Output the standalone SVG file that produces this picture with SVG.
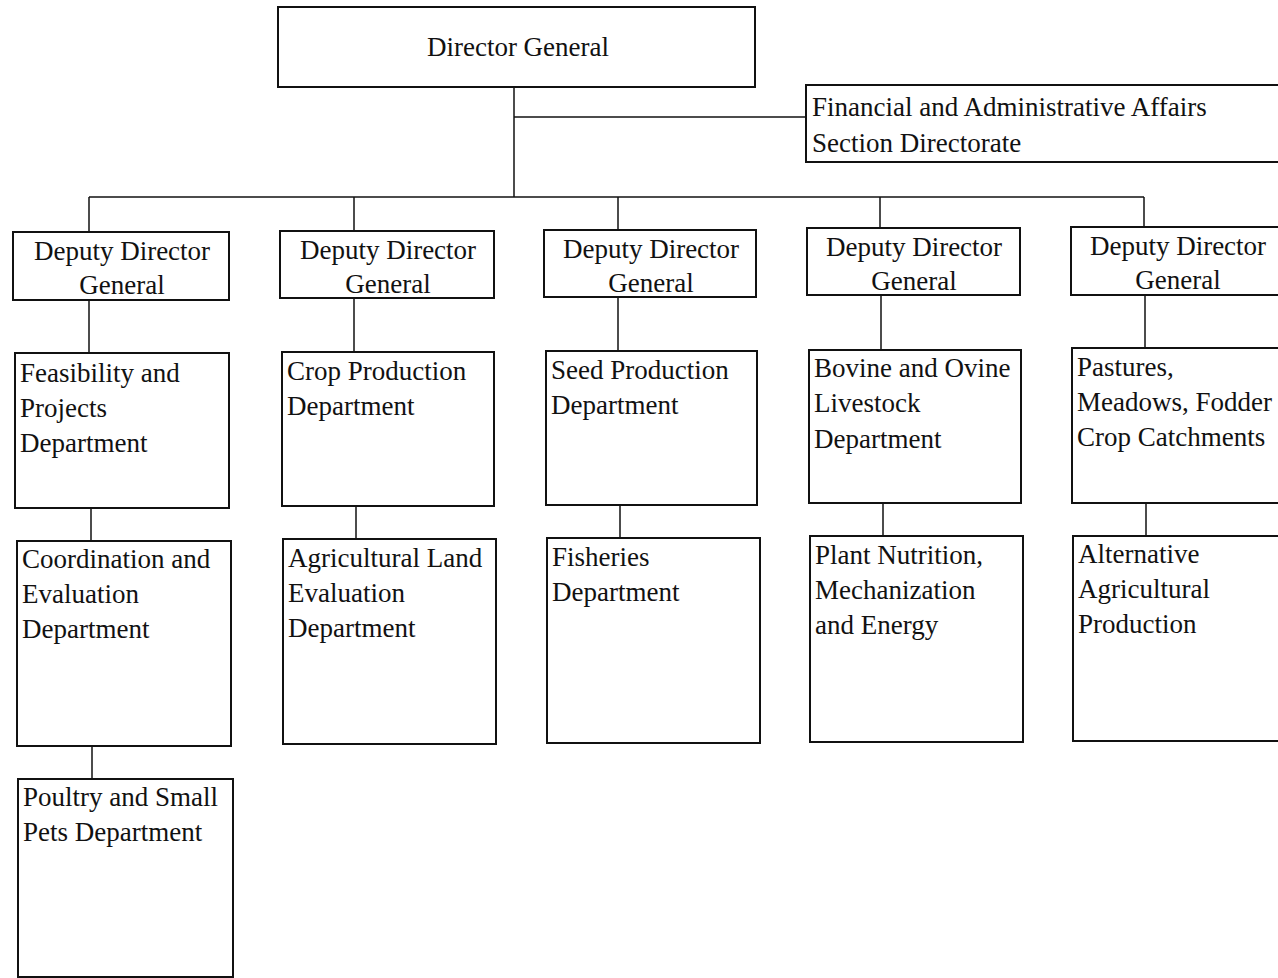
<svg xmlns="http://www.w3.org/2000/svg" width="1278" height="978" viewBox="0 0 1278 978">
<style>
.box{fill:#fff;stroke:#111;stroke-width:2}
.t{font-family:'Liberation Serif','Times New Roman',Times,serif;font-size:27px;fill:#111}
.c{text-anchor:middle}
.conn line{stroke:#111;stroke-width:1.5}
</style>
<rect width="1278" height="978" fill="#fff"/>
<g class="conn" id="connectors">
<line x1="514" y1="87" x2="514" y2="197"/>
<line x1="514" y1="117" x2="806" y2="117"/>
<line x1="89" y1="197" x2="1144" y2="197"/>
<line x1="89" y1="197" x2="89" y2="232"/>
<line x1="354" y1="197" x2="354" y2="231"/>
<line x1="618" y1="197" x2="618" y2="230"/>
<line x1="880" y1="197" x2="880" y2="228"/>
<line x1="1144" y1="197" x2="1144" y2="227"/>
<line x1="89" y1="300" x2="89" y2="353"/>
<line x1="354" y1="298" x2="354" y2="352"/>
<line x1="618" y1="297" x2="618" y2="351"/>
<line x1="881" y1="295" x2="881" y2="350"/>
<line x1="1145" y1="295" x2="1145" y2="348"/>
<line x1="91" y1="508" x2="91" y2="541"/>
<line x1="356" y1="506" x2="356" y2="539"/>
<line x1="620" y1="505" x2="620" y2="538"/>
<line x1="883" y1="503" x2="883" y2="536"/>
<line x1="1146" y1="503" x2="1146" y2="536"/>
<line x1="92" y1="746" x2="92" y2="779"/>
</g>
<g id="director-general"><rect class="box" x="278" y="7" width="477" height="80"/><text class="t c" x="518" y="56">Director General</text></g>
<g id="financial"><rect class="box" x="806" y="85" width="480" height="77"/><text class="t" x="812" y="116">Financial and Administrative Affairs</text><text class="t" x="812" y="152">Section Directorate</text></g>
<g id="ddg1"><rect class="box" x="13" y="232" width="216" height="68"/><text class="t c" x="122" y="260">Deputy Director</text><text class="t c" x="122" y="294">General</text></g>
<g id="ddg2"><rect class="box" x="280" y="231" width="214" height="67"/><text class="t c" x="388" y="259">Deputy Director</text><text class="t c" x="388" y="293">General</text></g>
<g id="ddg3"><rect class="box" x="544" y="230" width="212" height="67"/><text class="t c" x="651" y="258">Deputy Director</text><text class="t c" x="651" y="292">General</text></g>
<g id="ddg4"><rect class="box" x="807" y="228" width="213" height="67"/><text class="t c" x="914" y="256">Deputy Director</text><text class="t c" x="914" y="290">General</text></g>
<g id="ddg5"><rect class="box" x="1071" y="227" width="215" height="68"/><text class="t c" x="1178" y="255">Deputy Director</text><text class="t c" x="1178" y="289">General</text></g>
<g id="feasibility"><rect class="box" x="15" y="353" width="214" height="155"/><text class="t" x="20" y="382">Feasibility and</text><text class="t" x="20" y="417">Projects</text><text class="t" x="20" y="452">Department</text></g>
<g id="crop"><rect class="box" x="282" y="352" width="212" height="154"/><text class="t" x="287" y="380">Crop Production</text><text class="t" x="287" y="415">Department</text></g>
<g id="seed"><rect class="box" x="546" y="351" width="211" height="154"/><text class="t" x="551" y="379">Seed Production</text><text class="t" x="551" y="414">Department</text></g>
<g id="bovine"><rect class="box" x="809" y="350" width="212" height="153"/><text class="t" x="814" y="377">Bovine and Ovine</text><text class="t" x="814" y="412">Livestock</text><text class="t" x="814" y="448">Department</text></g>
<g id="pastures"><rect class="box" x="1072" y="348" width="214" height="155"/><text class="t" x="1077" y="376">Pastures,</text><text class="t" x="1077" y="411">Meadows, Fodder</text><text class="t" x="1077" y="446">Crop Catchments</text></g>
<g id="coordination"><rect class="box" x="17" y="541" width="214" height="205"/><text class="t" x="22" y="568">Coordination and</text><text class="t" x="22" y="603">Evaluation</text><text class="t" x="22" y="638">Department</text></g>
<g id="land"><rect class="box" x="283" y="539" width="213" height="205"/><text class="t" x="288" y="567">Agricultural Land</text><text class="t" x="288" y="602">Evaluation</text><text class="t" x="288" y="637">Department</text></g>
<g id="fisheries"><rect class="box" x="547" y="538" width="213" height="205"/><text class="t" x="552" y="566">Fisheries</text><text class="t" x="552" y="601">Department</text></g>
<g id="plant"><rect class="box" x="810" y="536" width="213" height="206"/><text class="t" x="815" y="564">Plant Nutrition,</text><text class="t" x="815" y="599">Mechanization</text><text class="t" x="815" y="634">and Energy</text></g>
<g id="alternative"><rect class="box" x="1073" y="536" width="213" height="205"/><text class="t" x="1078" y="563">Alternative</text><text class="t" x="1078" y="598">Agricultural</text><text class="t" x="1078" y="633">Production</text></g>
<g id="poultry"><rect class="box" x="18" y="779" width="215" height="198"/><text class="t" x="23" y="806">Poultry and Small</text><text class="t" x="23" y="841">Pets Department</text></g>
</svg>
